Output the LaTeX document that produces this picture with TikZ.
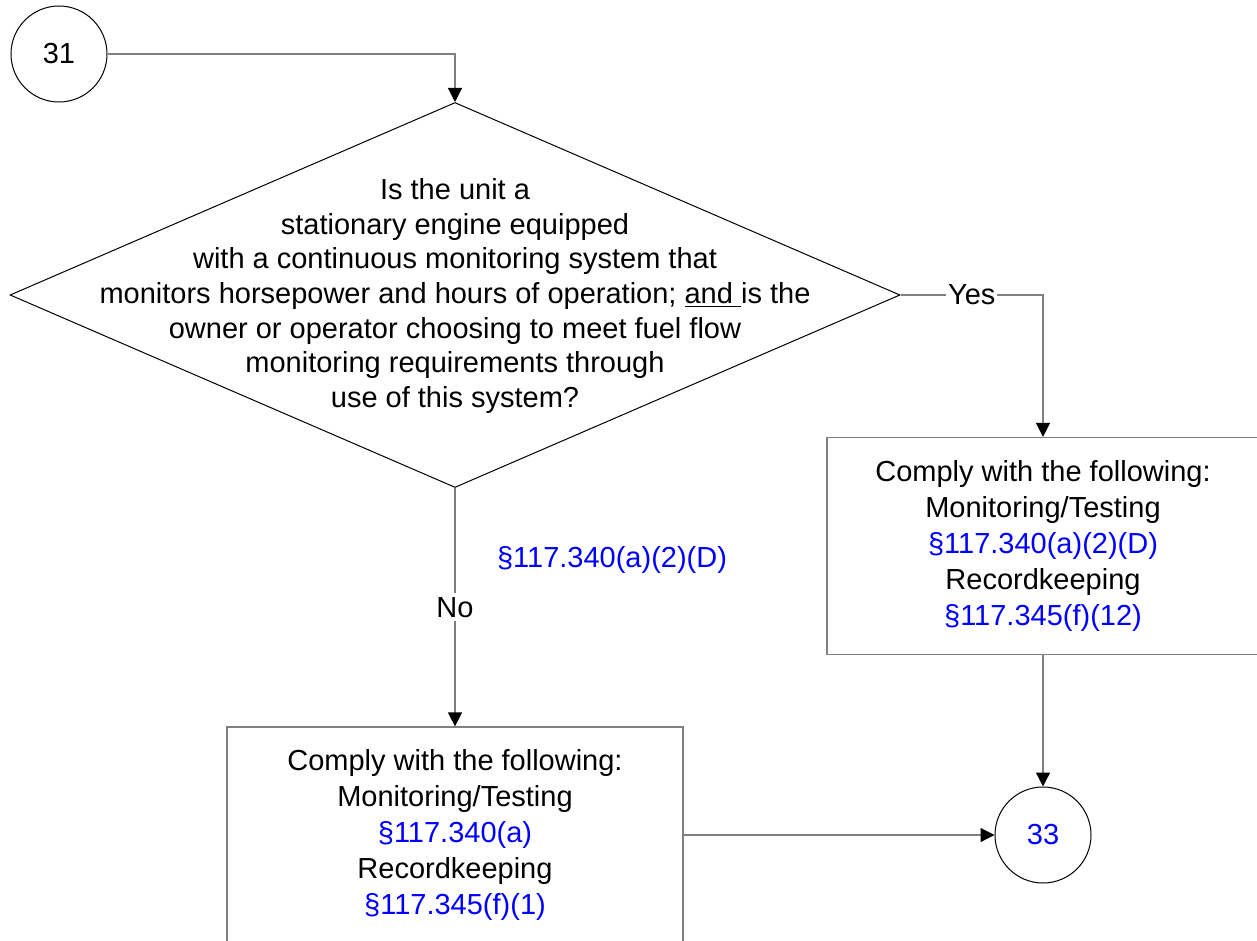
\documentclass[tikz,border=0pt]{standalone}
\usepackage{fontspec}
\setmainfont{Liberation Sans}
\definecolor{LineGray}{RGB}{128, 128, 128}
\definecolor{RefBlue}{RGB}{0, 0, 255}
\usetikzlibrary{arrows.meta, shapes.geometric}

\begin{document}
\begin{tikzpicture}[x=0.5pt, y=-0.5pt,
        font=\fontsize{14.5}{18}\selectfont,
        pagelink/.style={draw=black, circle, minimum size=48pt, inner sep=0pt, line width=0.5pt},
        decision/.style={draw=black, diamond, minimum width=445pt, minimum height=192.5pt, inner sep=0pt, line width=0.5pt},
        stepbox/.style={draw=LineGray, rectangle, align=center, line width=0.6pt},
        flow/.style={draw=LineGray, line width=0.6pt, -{Triangle[length=7pt, width=7pt, color=black]}}]
        % Page frame
        \clip (0,0) rectangle (1257,941);

        % Entry point
        \node[pagelink] (p31) at (59,54) {31};

        % Decision
        \node[decision] (q) at (455,295) {};
        \node[align=center, font=\fontsize{14.5}{17.3}\selectfont] (qtext) at (455,296) {Is the unit a\\
            stationary engine equipped\\
            with a continuous monitoring system that\\
            monitors horsepower and hours of operation; \underline{and\ }is the\\
            owner or operator choosing to meet fuel flow\\
            monitoring requirements through\\
            use of this system?};

        % Yes branch
        \node[stepbox, minimum width=216pt, minimum height=108.5pt] (yesbox) at (1043,546)
            {Comply with the following:\\ Monitoring/Testing\\ \textcolor{RefBlue}{\S117.340(a)(2)(D)}\\
             Recordkeeping\\ \textcolor{RefBlue}{\S117.345(f)(12)}};

        % No branch
        \node[stepbox, minimum width=228pt, minimum height=108pt] (nobox) at (455,835)
            {Comply with the following:\\ Monitoring/Testing\\ \textcolor{RefBlue}{\S117.340(a)}\\
             Recordkeeping\\ \textcolor{RefBlue}{\S117.345(f)(1)}};
        \node[RefBlue] (noref) at (612,560) {\S117.340(a)(2)(D)};

        % Exit point
        \node[pagelink, text=RefBlue] (p33) at (1043,835) {33};

        % Arrows
        \draw[flow] (p31) -| (q);
        \draw[flow] (q.east) -| node[pos=0.25, fill=white, inner sep=1pt] {Yes} (yesbox);
        \draw[flow] (q.south) -- node[fill=white, inner sep=2pt] {No} (nobox);
        \draw[flow] (yesbox) -- (p33);
        \draw[flow] (nobox) -- (p33);
    \end{tikzpicture}
\end{document}
